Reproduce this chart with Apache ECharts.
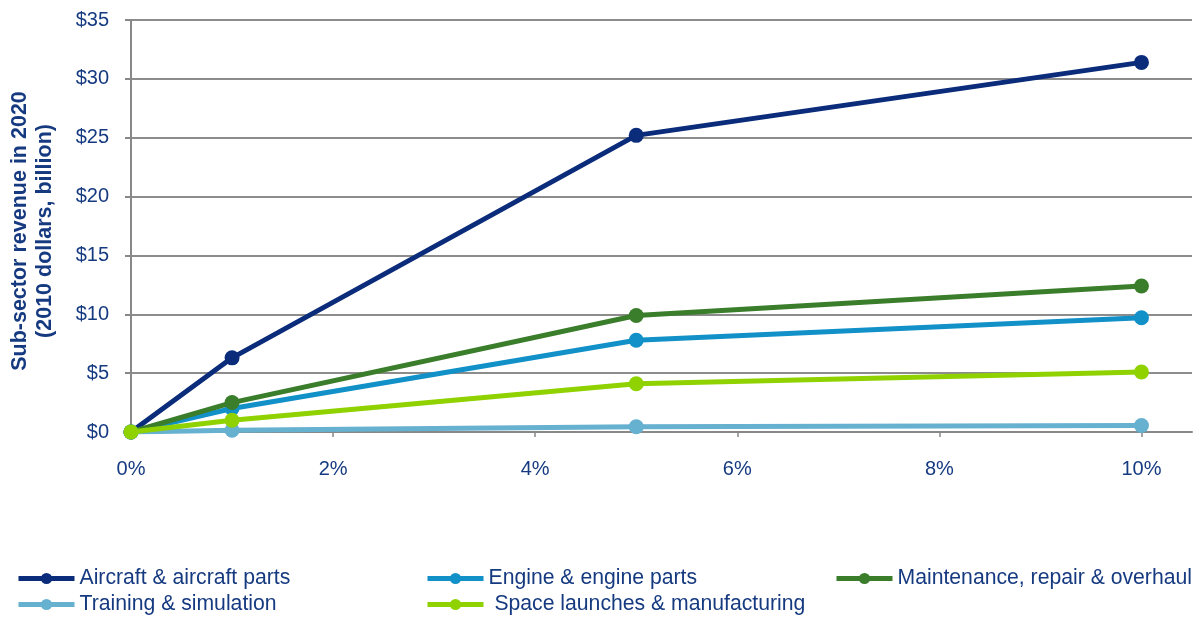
<!DOCTYPE html>
<html><head><meta charset="utf-8">
<script src="https://cdn.jsdelivr.net/npm/echarts@6/dist/echarts.min.js"></script>
<style>html,body{margin:0;padding:0;background:#fff}#c{width:1194px;height:617px}</style>
</head><body><div id="c"></div>
<script>
const growthRates = [0, 1, 5, 10];
const aircraft = [0, 6.3, 25.2, 31.4];
const engine = [0, 2.0, 7.8, 9.7];
const maintenance = [0, 2.5, 9.9, 12.4];
const training = [0, 0.15, 0.45, 0.55];
const space = [0, 1.0, 4.1, 5.1];
const seriesNames = ['Aircraft & aircraft parts','Engine & engine parts','Maintenance, repair & overhaul','Training & simulation',' Space launches & manufacturing'];
const seriesValues = [aircraft, engine, maintenance, training, space];
const colors = ['#0B2C7A','#1290C8','#3A7D2B','#66B0D0','#8FD200'];
const textColor = '#163A80';
const font = 'Liberation Sans, Arial, sans-serif';

const series = seriesNames.map((n,i)=>({
  name:n, type:'line',
  data: growthRates.map((x,j)=>[x, seriesValues[i][j]]),
  symbol:'circle', symbolSize:15,
  lineStyle:{width:5,color:colors[i]},
  itemStyle:{color:colors[i]},
  emphasis:{disabled:true},
  z: 2+i
}));

const legendPos = [[16,568],[425,568],[834,568],[16,594],[425,594]];
const legends = seriesNames.map((n,i)=>({
  data:[n], left:legendPos[i][0], top:legendPos[i][1], padding:0,
  itemWidth:56, itemHeight:14, itemGap:0,
  lineStyle:{width:5},
  textStyle:{fontSize:21.2,color:textColor,fontFamily:font},
  selectedMode:false
}));

const chart = echarts.init(document.getElementById('c'));
chart.setOption({
  animation:false,
  color:colors,
  grid:{left:131,right:2,top:20,bottom:185,containLabel:false,outerBoundsMode:'none'},
  legend:legends,
  xAxis:{
    type:'value', min:0, max:10.5, interval:2,
    axisLine:{show:true,lineStyle:{color:'#888',width:2}},
    axisTick:{show:true,length:5,lineStyle:{color:'#888',width:1.5}},
    splitLine:{show:false},
    axisLabel:{showMaxLabel:false,margin:27,fontSize:20,color:textColor,fontFamily:font,
      formatter:v=> (v%2===0 ? v+'%' : '')}
  },
  yAxis:{
    type:'value', min:0, max:35, interval:5,
    name:'Sub-sector revenue in 2020\n(2010 dollars, billion)',
    nameLocation:'middle', nameRotate:90, nameGap:73,
    nameTextStyle:{fontSize:21.5,fontWeight:'bold',color:textColor,fontFamily:font,lineHeight:25,padding:[0,10,0,0]},
    axisLine:{show:true,lineStyle:{color:'#888',width:2}},
    axisTick:{show:true,inside:false,length:6,lineStyle:{color:'#888',width:2}},
    splitLine:{show:true,lineStyle:{color:'#8c8c8c',width:2}},
    axisLabel:{margin:22,fontSize:20,color:textColor,fontFamily:font,formatter:v=>'$'+v}
  },
  series:series
});
</script></body></html>
